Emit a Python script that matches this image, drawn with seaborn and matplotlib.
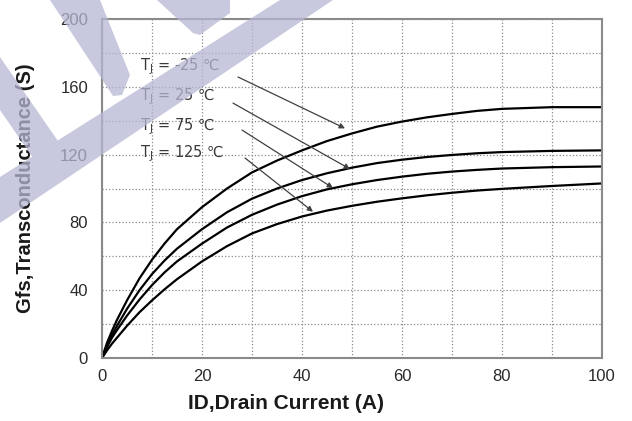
import matplotlib
matplotlib.use('Agg')
import matplotlib.pyplot as plt
from matplotlib.patches import Polygon
from matplotlib.ticker import MultipleLocator
import pandas as pd
import seaborn as sns

# Values (Gfs vs ID at four junction temperatures)
drain_current = [0, 1, 2, 3, 5, 7.5, 10, 12.5, 15, 20, 25, 30, 35, 40,
                 45, 50, 55, 60, 65, 70, 75, 80, 90, 100]
gfs_minus25 = [0, 9, 16, 22.5, 34, 47, 58, 67.5, 76, 89, 100, 109.5, 116.5,
               122.5, 128, 132.5, 136.5, 139.5, 142, 144, 145.8, 147, 148, 148]
gfs_25 = [0, 7.5, 13.5, 19, 29, 40, 49.5, 57.5, 64.5, 76, 86, 94, 100, 105,
          109, 112.3, 115, 117, 118.6, 119.8, 120.8, 121.5, 122.2, 122.5]
gfs_75 = [0, 6.5, 12, 16.5, 25, 34.5, 43, 50.5, 57, 67.5, 77, 84.5, 90.5,
          95.5, 99.5, 102.5, 105, 107, 108.7, 110, 111, 111.8, 112.6, 113]
gfs_125 = [0, 4.5, 8.5, 12, 19, 27, 34, 40.5, 46.5, 57, 66, 73.5, 79, 83.5,
           87, 89.8, 92.2, 94.2, 96, 97.5, 98.8, 99.8, 101.5, 103]
temperatures = ['-25', '25', '75', '125']

# label and arrow placement (data coordinates)
label_x = 7.6
label_y = [171.7, 154, 136.3, 120.5]
arrow_from = [(27.2, 165.8), (26.2, 150.4), (28.0, 134.5), (28.6, 118.0)]
arrow_to = [(48.6, 135.5), (49.6, 111.5), (46.2, 100.3), (42.2, 86.3)]

df = pd.DataFrame({
    'ID': drain_current * 4,
    'Gfs': gfs_minus25 + gfs_25 + gfs_75 + gfs_125,
    'Tj': [t for t in temperatures for _ in drain_current],
})

sns.set_style('white')
plt.rcParams['font.family'] = ['Liberation Sans', 'DejaVu Sans']
plt.rcParams['mathtext.fontset'] = 'custom'
plt.rcParams['mathtext.rm'] = 'DejaVu Sans'

fig = plt.figure(figsize=(6.32, 4.21), dpi=100)
ax = fig.add_axes([0.1614, 0.1496, 0.7911, 0.8052])

sns.lineplot(data=df, x='ID', y='Gfs', hue='Tj', hue_order=temperatures,
             palette=['black'] * 4, legend=False, linewidth=1.6, ax=ax)

ax.set_xlim(0, 100)
ax.set_ylim(0, 200)
ax.xaxis.set_major_locator(MultipleLocator(20))
ax.xaxis.set_minor_locator(MultipleLocator(10))
ax.yaxis.set_major_locator(MultipleLocator(40))
ax.yaxis.set_minor_locator(MultipleLocator(20))
ax.grid(which='both', color='#8a8a8a', linestyle=':', linewidth=0.9)

for spine in ax.spines.values():
    spine.set_visible(True)
    spine.set_color('#8a8a8a')
    spine.set_linewidth(1.5)

ax.tick_params(axis='x', which='both', direction='out', length=3,
               color='#8a8a8a', labelsize=12, labelcolor='#2a2a2a', pad=5)
ax.tick_params(axis='y', which='major', direction='out', length=6,
               color='#8a8a8a', labelsize=12, labelcolor='#2a2a2a', pad=4)
ax.tick_params(axis='y', which='minor', direction='in', length=3,
               color='#8a8a8a')

ax.set_xlabel('ID,Drain Current (A)', fontsize=15, fontweight='bold',
              color='#1a1a1a')
ax.set_ylabel('Gfs,Transconductance (S)', fontsize=14.5, fontweight='bold',
              color='#1a1a1a')
ax.xaxis.set_label_coords(0.369, -0.105)
ax.yaxis.set_label_coords(-0.134, 0.5)

# DejaVu Sans carries the degree-Celsius sign
for t, y, p0, p1 in zip(temperatures, label_y, arrow_from, arrow_to):
    ax.text(label_x, y, r'T$_\mathregular{J}$ = ' + t + ' \u2103',
            fontsize=10.5, color='#3a3a3a', va='center', ha='left',
            family='DejaVu Sans')
    ax.annotate('', xy=p1, xytext=p0,
                arrowprops=dict(arrowstyle='-|>', color='#404040', lw=0.9,
                                mutation_scale=8, shrinkA=0, shrinkB=0))

# faint watermark stripes in the top-left corner (figure pixels, y from top)
W, H = 632, 421
stripes = [
    [(50, 0), (100, 0), (130, 75), (122, 95), (113, 96)],
    [(157, 0), (230, 0), (230, 13), (200, 35), (193, 33)],
    [(280, 0), (333, 0), (0, 223), (0, 177)],
    [(0, 57), (57.7, 140.7), (32.3, 156.8), (0, 110)],
]
for pts in stripes:
    fig.patches.append(Polygon([(x / W, 1 - y / H) for x, y in pts],
                               closed=True, transform=fig.transFigure,
                               facecolor=(0.714, 0.714, 0.827), alpha=0.75,
                               edgecolor='none', zorder=10))

fig.savefig('out.png', dpi=100)
